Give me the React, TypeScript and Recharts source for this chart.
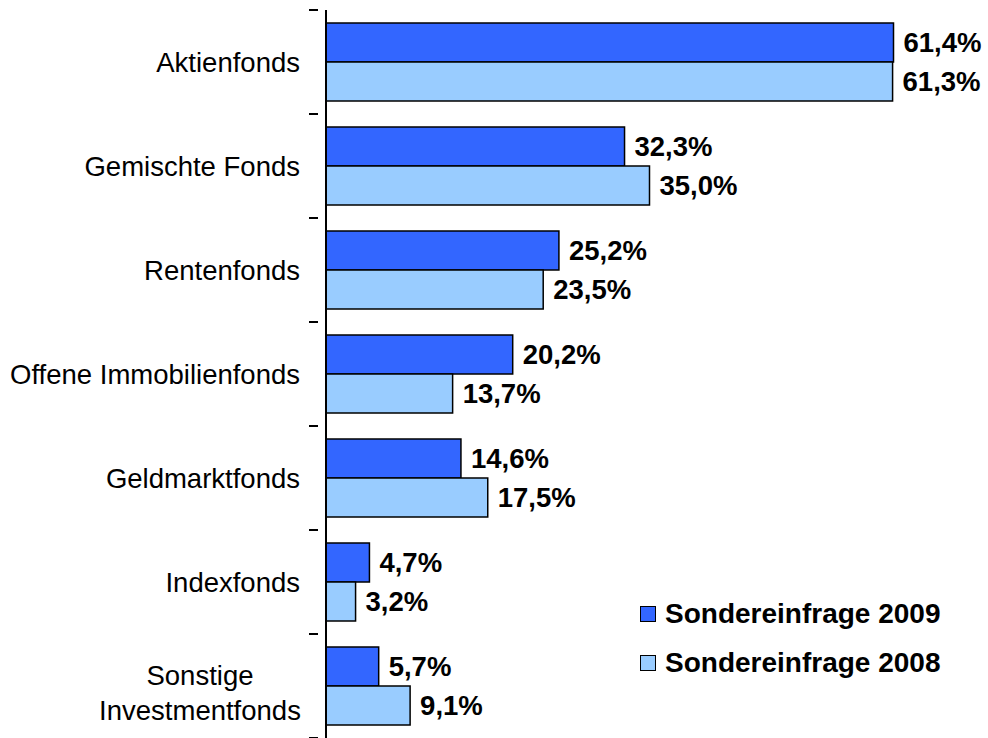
import { Bar, BarChart, LabelList, XAxis, YAxis } from "recharts";

const kategorien = [
  "Aktienfonds",
  "Gemischte Fonds",
  "Rentenfonds",
  "Offene Immobilienfonds",
  "Geldmarktfonds",
  "Indexfonds",
  "Sonstige\nInvestmentfonds",
];
const werte2009 = [61.4, 32.3, 25.2, 20.2, 14.6, 4.7, 5.7];
const werte2008 = [61.3, 35.0, 23.5, 13.7, 17.5, 3.2, 9.1];

const serien = [
  { key: "v2009", name: "Sondereinfrage 2009", farbe: "#3366FF" },
  { key: "v2008", name: "Sondereinfrage 2008", farbe: "#99CCFF" },
];

const daten = kategorien.map((name, i) => ({
  name,
  v2009: werte2009[i],
  v2008: werte2008[i],
}));

const FONT = "'Liberation Sans', Arial, sans-serif";

// Prozent im deutschen Format, z.B. 61,4%
const fmt = (v: unknown) =>
  typeof v === "number" ? v.toFixed(1).replace(".", ",") + "%" : String(v ?? "");

function KategorieTick(props: any) {
  const { x, y, payload } = props;
  const half = payload?.offset ?? 52;
  const zeilen = String(payload.value).split("\n");
  const rechts = x - 18;
  return (
    <g>
      {/* Teilstriche liegen an den Kategoriegrenzen */}
      <line x1={x - 9} x2={x} y1={y - half} y2={y - half} stroke="#000" strokeWidth={2} />
      <line x1={x - 9} x2={x} y1={y + half} y2={y + half} stroke="#000" strokeWidth={2} />
      {zeilen.length === 1 ? (
        <text x={rechts} y={y} dy="0.35em" textAnchor="end" fontFamily={FONT} fontSize={27.5} fill="#000">
          {zeilen[0]}
        </text>
      ) : (
        // mehrzeilig: zentriert untereinander
        <text x={rechts - 100} y={y} textAnchor="middle" fontFamily={FONT} fontSize={27.5} fill="#000">
          {zeilen.map((z, i) => (
            <tspan key={i} x={rechts - 100} dy={i === 0 ? "-0.05em" : "1.27em"}>
              {z}
            </tspan>
          ))}
        </text>
      )}
    </g>
  );
}

function Legende() {
  return (
    <div
      style={{
        position: "absolute",
        left: 640,
        top: 589,
        fontFamily: FONT,
        fontWeight: "bold",
        fontSize: 28,
        color: "#000",
        lineHeight: "49px",
      }}
    >
      {serien.map((s) => (
        <div key={s.key} style={{ display: "flex", alignItems: "center", height: 49 }}>
          <span
            style={{
              display: "inline-block",
              boxSizing: "border-box",
              width: 16,
              height: 16,
              background: s.farbe,
              border: "1.5px solid #000",
              marginRight: 9,
            }}
          />
          {s.name}
        </div>
      ))}
    </div>
  );
}

export default function App() {
  return (
    <div style={{ position: "absolute", left: 0, top: 0, width: 988, height: 738, background: "#fff" }}>
      <BarChart
        width={988}
        height={738}
        data={daten}
        layout="vertical"
        margin={{ top: 10, right: 15, bottom: 0, left: 0 }}
        barCategoryGap={13}
        barGap={0}
      >
        <XAxis type="number" domain={[0, 70]} hide />
        <YAxis
          type="category"
          dataKey="name"
          width={326}
          axisLine={{ stroke: "#000", strokeWidth: 2 }}
          tickLine={false}
          tick={<KategorieTick />}
          interval={0}
        />
        {serien.map((s) => (
          <Bar
            key={s.key}
            dataKey={s.key}
            name={s.name}
            fill={s.farbe}
            stroke="#000"
            strokeWidth={1.5}
            isAnimationActive={false}
          >
            <LabelList
              dataKey={s.key}
              position="right"
              offset={10}
              formatter={fmt}
              fill="#000"
              fontFamily={FONT}
              fontWeight="bold"
              fontSize={27.5}
            />
          </Bar>
        ))}
      </BarChart>
      <Legende />
    </div>
  );
}
